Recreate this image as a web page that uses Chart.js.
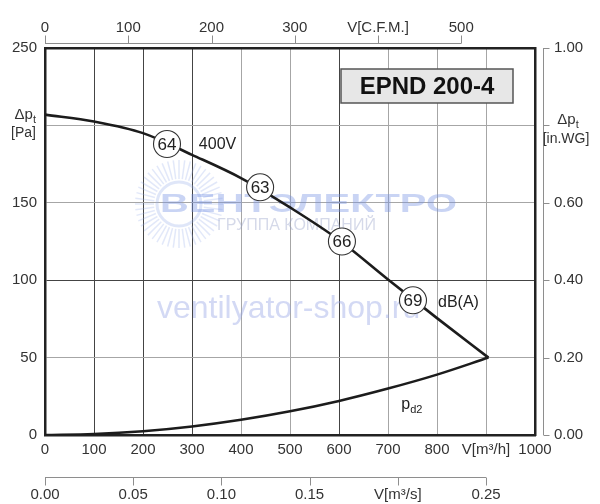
<!DOCTYPE html>
<html><head><meta charset="utf-8">
<script src="https://cdn.jsdelivr.net/npm/chart.js@4.4.1/dist/chart.umd.min.js"></script>
<style>html,body{margin:0;padding:0;background:#fff;}#wrap{position:relative;width:600px;height:504px;}</style>
</head><body><div id="wrap"><canvas id="c"></canvas></div>
<script>
// ---- data ----
const flowM3h = [0, 100, 200, 300, 400, 500, 600, 700, 800, 905];
const pressure400V = [207, 202.5, 195, 181, 166, 147, 126, 100.5, 75.5, 50];
const pdFlow = [0, 100, 200, 300, 400, 500, 600, 700, 800, 905];
const pdPressure = [0, 0.6, 2.4, 5.5, 9.8, 15.3, 22, 30, 39, 50];
const dbFlow = [249, 439, 606, 751];
const dbPressure = [188, 160, 125, 87];
const dbLabels = ['64', '63', '66', '69'];
const flowTicks = [0, 100, 200, 300, 400, 500, 600, 700, 800, 900, 1000];
const flowTickLabels = ['0', '100', '200', '300', '400', '500', '600', '700', '800', 'V[m³/h]', '1000'];
const cfmTicks = [0, 100, 200, 300, 400, 500];
const cfmTickLabels = ['0', '100', '200', '300', 'V[C.F.M.]', '500'];
const m3sTicks = [0, 0.05, 0.10, 0.15, 0.20, 0.25];
const m3sTickLabels = ['0.00', '0.05', '0.10', '0.15', 'V[m³/s]', '0.25'];
const paTicks = [0, 50, 100, 150, 200, 250];
const paTickLabels = ['0', '50', '100', '150', '', '250'];
const inwgTicks = [0, 0.2, 0.4, 0.6, 0.8, 1.0];
const inwgTickLabels = ['0.00', '0.20', '0.40', '0.60', '', '1.00'];
const modelName = 'EPND 200-4';
const curveLabel = '400V';
const noiseUnit = 'dB(A)';
const M3H_PER_CFM = 1.699;

// ---- styles ----
const FONT = "'Liberation Sans', Arial, Helvetica, sans-serif";
const TXT = '#333333';
const darkFlowLines = [100, 200, 300, 600];
const darkPaLines = [100];
Chart.defaults.font.family = FONT;
Chart.defaults.color = TXT;

function sizer(prop, val) {
  return function (s) { s[prop] = val; s.paddingLeft = 0; s.paddingRight = 0; s.paddingTop = 0; s.paddingBottom = 0; };
}
function tickSetter(arr) { return function (s) { s.ticks = arr.map(v => ({ value: v })); }; }
const tickFont = { size: 15 };

const annot = {
  id: 'annot',
  beforeDatasetsDraw(chart) {
    const { ctx, chartArea: a } = chart;
    ctx.save();
    // watermark logo rays
    const cx = a.left + 134, cy = a.top + 156;
    ctx.strokeStyle = 'rgba(150,172,232,0.28)';
    ctx.lineWidth = 1.5;
    for (let i = 0; i < 48; i++) {
      const ang = (i / 48) * Math.PI * 2;
      ctx.beginPath();
      ctx.moveTo(cx + Math.cos(ang) * 25, cy + Math.sin(ang) * 25);
      ctx.lineTo(cx + Math.cos(ang) * 44, cy + Math.sin(ang) * 44);
      ctx.stroke();
    }
    ctx.beginPath(); ctx.lineWidth = 3; ctx.strokeStyle = 'rgba(150,172,232,0.3)';
    ctx.arc(cx, cy, 22, 0, Math.PI * 2); ctx.stroke();
    // watermark text
    ctx.fillStyle = 'rgba(120,148,228,0.4)';
    ctx.font = 'bold 26px ' + FONT;
    ctx.textBaseline = 'alphabetic'; ctx.textAlign = 'left';
    ctx.save();
    ctx.translate(a.left + 115, a.top + 164);
    const w = ctx.measureText('ВЕНТЭЛЕКТРО').width;
    ctx.scale(297 / w, 1);
    ctx.fillText('ВЕНТЭЛЕКТРО', 0, 0);
    ctx.restore();
    ctx.fillStyle = 'rgba(150,160,200,0.4)';
    ctx.font = '16px ' + FONT;
    ctx.fillText('ГРУППА КОМПАНИЙ', a.left + 172, a.top + 182);
    ctx.fillStyle = 'rgba(150,165,228,0.42)';
    ctx.font = '32px ' + FONT;
    ctx.fillText('ventilyator-shop.ru', a.left + 112, a.top + 270);
    ctx.restore();
  },
  afterDraw(chart) {
    const { ctx, chartArea: a, scales } = chart;
    ctx.save();
    // auxiliary axes
    ctx.strokeStyle = '#8e8e8e'; ctx.lineWidth = 1;
    const x2 = scales.x2, x3 = scales.x3, y2 = scales.y2;
    let yl = Math.round(a.top - 5) + 0.5;
    ctx.beginPath();
    ctx.moveTo(x2.getPixelForValue(0), yl); ctx.lineTo(x2.getPixelForValue(500), yl);
    cfmTicks.forEach(v => { const px = Math.round(x2.getPixelForValue(v)) + 0.5; ctx.moveTo(px, yl); ctx.lineTo(px, yl - 8); });
    ctx.stroke();
    yl = Math.round(x3.top + 12) + 0.5;
    ctx.beginPath();
    ctx.moveTo(x3.getPixelForValue(0), yl); ctx.lineTo(x3.getPixelForValue(0.25), yl);
    m3sTicks.forEach(v => { const px = Math.round(x3.getPixelForValue(v)) + 0.5; ctx.moveTo(px, yl); ctx.lineTo(px, yl + 8); });
    ctx.stroke();
    const xl = Math.round(a.right + 8) + 0.5;
    ctx.beginPath();
    ctx.moveTo(xl, y2.getPixelForValue(1)); ctx.lineTo(xl, y2.getPixelForValue(0));
    inwgTicks.forEach(v => { const py = Math.round(y2.getPixelForValue(v)) + 0.5; ctx.moveTo(xl, py); ctx.lineTo(xl + 6, py); });
    ctx.stroke();

    // Δp_t labels
    function dp(xEnd, yb, align) {
      ctx.font = '15px ' + FONT;
      const w1 = ctx.measureText('Δp').width;
      ctx.font = '11px ' + FONT;
      const w2 = ctx.measureText('t').width;
      let x0 = align === 'right' ? xEnd - w1 - w2 : xEnd - (w1 + w2) / 2;
      ctx.textAlign = 'left'; ctx.textBaseline = 'alphabetic';
      ctx.font = '15px ' + FONT; ctx.fillText('Δp', x0, yb);
      ctx.font = '11px ' + FONT; ctx.fillText('t', x0 + w1, yb + 4);
    }
    ctx.fillStyle = TXT;
    const ly = scales.y.getPixelForValue(200);
    dp(36, ly - 6, 'right');
    ctx.font = '14px ' + FONT; ctx.textAlign = 'right';
    ctx.fillText('[Pa]', 36, ly + 12);
    const ry = y2.getPixelForValue(0.8);
    dp(568, ry - 1, 'center');
    ctx.font = '14px ' + FONT; ctx.textAlign = 'center';
    ctx.fillText('[in.WG]', 566, ry + 18);

    // model box
    const bx = a.right - 194, by = a.top + 21, bw = 172, bh = 34;
    ctx.fillStyle = '#e7e7e7'; ctx.fillRect(bx, by, bw, bh);
    ctx.strokeStyle = '#555'; ctx.lineWidth = 1.5; ctx.strokeRect(bx, by, bw, bh);
    ctx.fillStyle = '#111'; ctx.font = 'bold 24px ' + FONT;
    ctx.textAlign = 'center'; ctx.textBaseline = 'middle';
    ctx.fillText(modelName, bx + bw / 2, by + bh / 2 + 1);

    // dB labels inside circles
    const xs = scales.x, ys = scales.y;
    ctx.font = '17px ' + FONT; ctx.fillStyle = '#222';
    dbFlow.forEach((f, i) => {
      ctx.fillText(dbLabels[i], xs.getPixelForValue(f), ys.getPixelForValue(dbPressure[i]) + 1);
    });
    // curve annotations
    ctx.font = '16px ' + FONT;
    ctx.textAlign = 'left';
    ctx.fillText(curveLabel, xs.getPixelForValue(314), ys.getPixelForValue(187.5));
    ctx.fillText(noiseUnit, xs.getPixelForValue(802), ys.getPixelForValue(85.5));
    ctx.textBaseline = 'alphabetic';
    const px = xs.getPixelForValue(727), py = ys.getPixelForValue(17);
    ctx.font = '16px ' + FONT; ctx.fillText('p', px, py);
    const pw = ctx.measureText('p').width;
    ctx.font = '11px ' + FONT; ctx.fillText('d2', px + pw, py + 4);
    ctx.restore();
  }
};

new Chart(document.getElementById('c'), {
  type: 'line',
  data: {
    datasets: [
      {
        data: flowM3h.map((f, i) => ({ x: f, y: pressure400V[i] })),
        borderColor: '#1c1c1c', borderWidth: 2.6, pointRadius: 0, fill: false,
        cubicInterpolationMode: 'monotone', order: 2
      },
      {
        data: pdFlow.map((f, i) => ({ x: f, y: pdPressure[i] })),
        borderColor: '#1c1c1c', borderWidth: 2.6, pointRadius: 0, fill: false,
        cubicInterpolationMode: 'monotone', order: 2
      },
      {
        type: 'scatter',
        data: dbFlow.map((f, i) => ({ x: f, y: dbPressure[i] })),
        showLine: false, pointRadius: 13.5, pointBackgroundColor: '#ffffff',
        pointBorderColor: '#333333', pointBorderWidth: 1.1, order: 1
      }
    ]
  },
  options: {
    responsive: true, maintainAspectRatio: false, animation: false, events: [],
    layout: { padding: 0 },
    plugins: { legend: { display: false }, tooltip: { enabled: false } },
    scales: {
      x: {
        type: 'linear', position: 'bottom', min: 0, max: 1000, bounds: 'data', weight: 0,
        afterFit: sizer('height', 30), afterBuildTicks: tickSetter(flowTicks),
        grid: { color: c => darkFlowLines.includes(c.tick && c.tick.value) ? '#444' : '#a6a6a6', lineWidth: 1, drawTicks: false },
        border: { display: true, color: '#222', width: 2.5 },
        ticks: { padding: 6, autoSkip: false, maxRotation: 0, minRotation: 0, font: tickFont, callback: (v, i) => flowTickLabels[i] }
      },
      x3: {
        type: 'linear', position: 'bottom', min: 0, max: 1000 / 3600, bounds: 'data', weight: 1,
        afterFit: sizer('height', 39), afterBuildTicks: tickSetter(m3sTicks),
        grid: { display: false, drawTicks: false }, border: { display: false },
        ticks: { padding: 21, autoSkip: false, maxRotation: 0, minRotation: 0, font: tickFont, callback: (v, i) => m3sTickLabels[i] }
      },
      x2: {
        type: 'linear', position: 'top', min: 0, max: 1000 / M3H_PER_CFM, bounds: 'data',
        afterFit: sizer('height', 48), afterBuildTicks: tickSetter(cfmTicks),
        grid: { display: false, drawTicks: false }, border: { display: true, color: '#222', width: 2.5 },
        ticks: { padding: 11, autoSkip: false, maxRotation: 0, minRotation: 0, font: tickFont, callback: (v, i) => cfmTickLabels[i] }
      },
      y: {
        type: 'linear', position: 'left', min: 0, max: 250, bounds: 'data',
        afterFit: sizer('width', 45), afterBuildTicks: tickSetter(paTicks),
        grid: { color: c => darkPaLines.includes(c.tick && c.tick.value) ? '#444' : '#a6a6a6', lineWidth: 1, drawTicks: false },
        border: { display: true, color: '#222', width: 2.5 },
        ticks: { padding: 8, autoSkip: false, font: tickFont, callback: (v, i) => paTickLabels[i] }
      },
      y2: {
        type: 'linear', position: 'right', min: 0, max: 1.0, bounds: 'data',
        afterFit: sizer('width', 65), afterBuildTicks: tickSetter(inwgTicks),
        grid: { display: false, drawTicks: false }, border: { display: true, color: '#222', width: 2.5 },
        ticks: { padding: 19, autoSkip: false, font: tickFont, callback: (v, i) => inwgTickLabels[i] }
      }
    }
  },
  plugins: [annot]
});
</script></body></html>
